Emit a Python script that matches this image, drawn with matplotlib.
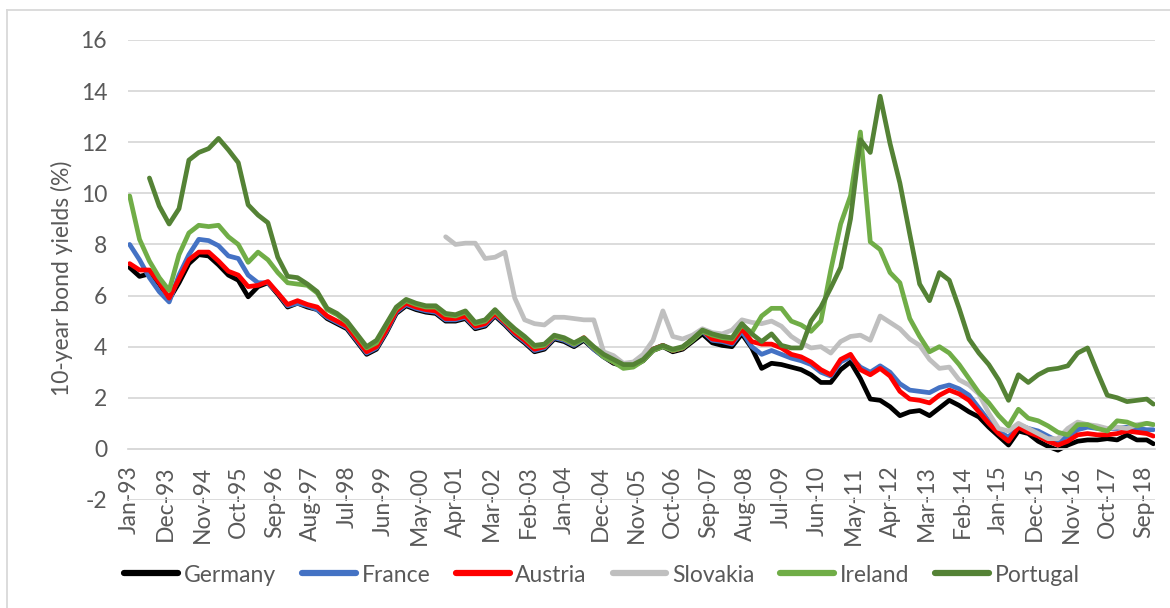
import numpy as np
import matplotlib
matplotlib.use("Agg")
import matplotlib.pyplot as plt
from matplotlib.lines import Line2D

nan = np.nan

# month index counted from Jan-93, values read roughly every quarter
months = list(range(0, 310, 3)) + [311]

germany = [7.1, 6.75, 6.85, 6.45, 5.85, 6.5, 7.25, 7.6, 7.55, 7.2, 6.8, 6.6, 5.95, 6.35, 6.5, 6.05, 5.55, 5.7,
           5.55, 5.45, 5.1, 4.9, 4.7, 4.2, 3.7, 3.9, 4.55, 5.3, 5.6, 5.45, 5.35, 5.3, 5.0, 5.0, 5.1, 4.7,
           4.8, 5.2, 4.85, 4.45, 4.15, 3.8, 3.9, 4.3, 4.2, 4.0, 4.25, 3.9, 3.6, 3.35, 3.25, 3.25, 3.45, 3.85,
           4.0, 3.8, 3.9, 4.2, 4.5, 4.15, 4.05, 4.0, 4.5, 3.95, 3.15, 3.35, 3.3, 3.2, 3.1, 2.9, 2.6, 2.6,
           3.1, 3.4, 2.75, 1.95, 1.9, 1.65, 1.3, 1.45, 1.5, 1.3, 1.6, 1.9, 1.7, 1.45, 1.25, 0.85, 0.5, 0.15,
           0.7, 0.6, 0.3, 0.1, -0.05, 0.15, 0.3, 0.35, 0.35, 0.4, 0.35, 0.55, 0.35, 0.35, 0.2]

france = [8.0, 7.4, 6.7, 6.15, 5.75, 6.8, 7.6, 8.2, 8.15, 7.95, 7.55, 7.45, 6.8, 6.5, 6.5, 6.1, 5.6, 5.7,
          5.6, 5.45, 5.15, 4.95, 4.75, 4.25, 3.75, 3.95, 4.6, 5.35, 5.65, 5.5, 5.4, 5.35, 5.05, 5.05, 5.15, 4.75,
          4.85, 5.25, 4.9, 4.5, 4.2, 3.85, 3.95, 4.35, 4.25, 4.05, 4.3, 3.9, 3.6, 3.4, 3.3, 3.3, 3.5, 3.9,
          4.05, 3.85, 3.95, 4.3, 4.6, 4.25, 4.2, 4.1, 4.6, 4.0, 3.7, 3.85, 3.7, 3.55, 3.45, 3.3, 3.0, 2.85,
          3.4, 3.6, 3.2, 3.0, 3.25, 3.0, 2.55, 2.3, 2.25, 2.2, 2.4, 2.5, 2.35, 2.1, 1.6, 1.1, 0.7, 0.45,
          0.95, 0.8, 0.7, 0.5, 0.3, 0.5, 0.75, 0.85, 0.8, 0.8, 0.8, 0.85, 0.8, 0.75, 0.75]

austria = [7.25, 7.0, 7.0, 6.5, 5.9, 6.65, 7.4, 7.7, 7.7, 7.35, 6.95, 6.8, 6.35, 6.4, 6.55, 6.1, 5.65, 5.8,
           5.65, 5.55, 5.2, 5.0, 4.8, 4.3, 3.8, 4.0, 4.65, 5.4, 5.7, 5.55, 5.45, 5.4, 5.1, 5.1, 5.2, 4.8,
           4.9, 5.3, 4.95, 4.55, 4.25, 3.9, 4.0, 4.4, 4.3, 4.1, 4.35, 3.95, 3.65, 3.4, 3.3, 3.3, 3.5, 3.9,
           4.05, 3.85, 3.95, 4.3, 4.65, 4.3, 4.25, 4.15, 4.7, 4.2, 4.1, 4.1, 3.95, 3.7, 3.6, 3.4, 3.1, 2.9,
           3.5, 3.7, 3.1, 2.9, 3.15, 2.85, 2.25, 1.95, 1.9, 1.8, 2.1, 2.3, 2.15, 1.9, 1.45, 1.0, 0.6, 0.3,
           0.85, 0.65, 0.5, 0.3, 0.15, 0.3, 0.55, 0.6, 0.55, 0.55, 0.6, 0.7, 0.65, 0.6, 0.5]

slovakia = [nan] * 32 + [
    8.3, 8.0, 8.05, 8.05, 7.45, 7.5, 7.7, 5.9, 5.05, 4.9, 4.85, 5.15, 5.15, 5.1, 5.05, 5.05, 3.8, 3.65,
    3.35, 3.4, 3.7, 4.25, 5.4, 4.4, 4.3, 4.45, 4.7, 4.55, 4.5, 4.65, 5.05, 4.95, 4.9, 5.0, 4.8, 4.4,
    4.15, 3.95, 4.0, 3.75, 4.2, 4.4, 4.45, 4.25, 5.2, 4.95, 4.7, 4.3, 4.05, 3.5, 3.15, 3.2, 2.7, 2.5,
    2.15, 1.4, 0.8, 0.7, 1.0, 0.8, 0.6, 0.4, 0.4, 0.8, 1.05, 0.95, 0.9, 0.8, 0.85, 0.8, 0.95, 1.0, 0.95]

ireland = [9.9, 8.2, 7.35, 6.7, 6.2, 7.6, 8.45, 8.75, 8.7, 8.75, 8.3, 8.0, 7.3, 7.7, 7.4, 6.9, 6.5, 6.45,
           6.4, 6.1, 5.45, 5.25, 4.95, 4.45, 3.95, 4.15, 4.85, 5.5, 5.8, 5.65, 5.55, 5.55, 5.25, 5.2, 5.35, 4.9,
           5.0, 5.4, 5.0, 4.65, 4.35, 4.0, 4.05, 4.4, 4.3, 4.1, 4.3, 3.95, 3.6, 3.4, 3.15, 3.2, 3.45, 3.85,
           4.0, 3.85, 3.95, 4.25, 4.6, 4.45, 4.35, 4.3, 4.85, 4.55, 5.2, 5.5, 5.5, 5.0, 4.85, 4.6, 5.0, 7.0,
           8.8, 9.9, 12.4, 8.1, 7.8, 6.9, 6.5, 5.1, 4.4, 3.8, 4.0, 3.75, 3.3, 2.75, 2.2, 1.8, 1.3, 0.9,
           1.55, 1.2, 1.1, 0.9, 0.65, 0.55, 0.95, 0.95, 0.8, 0.7, 1.1, 1.05, 0.9, 1.0, 0.95]

portugal = [nan, nan, 10.6, 9.5, 8.8, 9.4, 11.3, 11.6, 11.75, 12.15, 11.7, 11.2, 9.55, 9.15, 8.85, 7.5, 6.75, 6.7,
            6.45, 6.15, 5.5, 5.3, 5.0, 4.5, 4.0, 4.25, 4.9, 5.55, 5.85, 5.7, 5.6, 5.6, 5.3, 5.25, 5.4, 4.95,
            5.05, 5.45, 5.05, 4.7, 4.4, 4.05, 4.1, 4.45, 4.35, 4.15, 4.35, 4.0, 3.7, 3.5, 3.3, 3.3, 3.5, 3.9,
            4.05, 3.9, 4.0, 4.3, 4.65, 4.5, 4.4, 4.35, 4.9, 4.5, 4.2, 4.5, 4.05, 3.95, 3.95, 5.0, 5.55, 6.3,
            7.1, 9.0, 12.1, 11.6, 13.8, 11.95, 10.4, 8.4, 6.45, 5.8, 6.9, 6.6, 5.5, 4.3, 3.75, 3.3, 2.7, 1.9,
            2.9, 2.6, 2.9, 3.1, 3.15, 3.25, 3.75, 3.95, 3.0, 2.1, 2.0, 1.85, 1.9, 1.95, 1.75]

names = ["Germany", "France", "Austria", "Slovakia", "Ireland", "Portugal"]
colors = ["#000000", "#4472C4", "#FF0000", "#BFBFBF", "#70AD47", "#548235"]

tick_pos = list(range(0, 312, 11))
tick_labels = ["Jan-93", "Dec-93", "Nov-94", "Oct-95", "Sep-96", "Aug-97", "Jul-98", "Jun-99",
               "May-00", "Apr-01", "Mar-02", "Feb-03", "Jan-04", "Dec-04", "Nov-05", "Oct-06",
               "Sep-07", "Aug-08", "Jul-09", "Jun-10", "May-11", "Apr-12", "Mar-13", "Feb-14",
               "Jan-15", "Dec-15", "Nov-16", "Oct-17", "Sep-18"]

txt = "#595959"
grid = "#D9D9D9"
fs = 16.5
plt.rcParams['font.family'] = ['Lato', 'DejaVu Sans']
plt.rcParams['axes.unicode_minus'] = False

fig = plt.figure(figsize=(11.7, 6.08), dpi=100)
ax = fig.add_axes([128/1170, 108/608, 1027/1170, 460/608])

series = [germany, france, austria, slovakia, ireland, portugal]
for name, vals, c in zip(names, series, colors):
    ax.plot(months, vals, color=c, lw=3.4, label=name,
            solid_joinstyle='round', solid_capstyle='round')

ax.set_xlim(-0.5, 311.5)
ax.set_ylim(-2, 16)
ax.set_yticks(range(-2, 17, 2))
ax.yaxis.grid(True, color=grid, lw=1.3)
ax.set_axisbelow(True)
for s in ['top', 'left', 'right']:
    ax.spines[s].set_visible(False)
ax.spines['bottom'].set_position(('data', 0))
ax.spines['bottom'].set_color(grid)
ax.spines['bottom'].set_linewidth(1.3)

ax.set_xticks(tick_pos)
ax.set_xticklabels(tick_labels, rotation=90)
ax.tick_params(axis='x', length=0, pad=12, labelsize=fs, labelcolor=txt)
ax.tick_params(axis='y', length=0, pad=15, labelsize=fs, labelcolor=txt)

fig.text(62/1170, 1 - 278/608, "10-year bond yields (%)", rotation=90,
         ha='center', va='center', fontsize=fs, color=txt)

handles = [Line2D([], [], color=c, lw=4.5, solid_capstyle='round') for c in colors]
fig.legend(handles, names, loc='center', bbox_to_anchor=(602/1170, 1 - 575/608), ncol=6,
           frameon=False, fontsize=fs, labelcolor=txt, handlelength=2.35,
           handletextpad=0.25, columnspacing=1.12)

# outer chart border (left and top visible in the crop)
fig.add_artist(Line2D([7/1170, 7/1170], [0, 1 - 10/608], color=grid, lw=1.3))
fig.add_artist(Line2D([7/1170, 1], [1 - 10/608, 1 - 10/608], color=grid, lw=1.3))

fig.savefig("out.png", dpi=100)
